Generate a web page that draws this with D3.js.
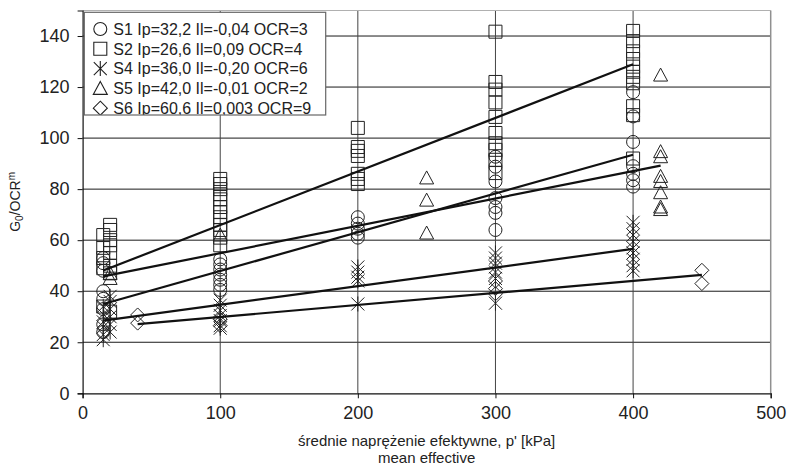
<!DOCTYPE html>
<html><head><meta charset="utf-8">
<script src="https://cdn.jsdelivr.net/npm/d3@7"></script>
<style>
body{margin:0;background:#fff;}
svg{display:block;font-family:"Liberation Sans",Arial,sans-serif;}
</style>
</head><body>
<svg id="chart" width="790" height="475"></svg>
<script>
// axis ticks
const xTicks = [0, 100, 200, 300, 400, 500];
const yTicks = [0, 20, 40, 60, 80, 100, 120, 140];
const xVerticals = [100, 200, 300, 400];

// legend entries
const seriesNames = [
  "S1 Ip=32,2 Il=-0,04 OCR=3",
  "S2 Ip=26,6 Il=0,09 OCR=4",
  "S4 Ip=36,0 Il=-0,20 OCR=6",
  "S5 Ip=42,0 Il=-0,01 OCR=2",
  "S6 Ip=60,6 Il=0,003 OCR=9"
];
const seriesSymbols = ["circle", "square", "star", "triangle", "diamond"];

// measurements: [p' (kPa), G0/OCR^m]
const s1Points = [
  [15,53],[15,51],[15,48],[15,40],[15,37],[15,33],[15,27],[15,24],
  [100,52.5],[100,50.5],[100,48.5],[100,46.5],[100,44.5],[100,42.5],[100,40.5],
  [200,69],[200,66.5],[200,64.5],[200,62.5],[200,61],
  [300,92.7],[300,88.8],[300,83],[300,76.5],[300,73],[300,70.7],[300,64],
  [400,118],[400,108.5],[400,98.5],[400,89],[400,86],[400,83.5],[400,81]
];
const s2Points = [
  [15,62],[15,57],[15,53],[15,49],[15,34],
  [20,66],[20,64],[20,60],[20,58],[20,55],[20,50],[20,47],[20,32],
  [100,84],[100,82],[100,80],[100,78],[100,76],[100,73],[100,71],[100,69],[100,66],[100,64],[100,61],[100,58],
  [200,104],[200,96.5],[200,95],[200,93],[200,86],[200,84],[200,82],
  [300,141.7],[300,122],[300,119],[300,114],[300,108.3],[300,102],[300,98],[300,95.4],[300,91.5],[300,86.3],
  [400,142],[400,138],[400,134],[400,131],[400,128],[400,126],[400,124],[400,121.5],[400,112.5],[400,109],[400,92]
];
const s4Points = [
  [15,21],[15,23],[15,26],[15,28],[15,31],[15,34],
  [20,24],[20,27],[20,30],[20,33],[20,36],[20,38],
  [100,36.5],[100,34.5],[100,32.5],[100,30.5],[100,28.5],[100,26.5],[100,25.5],
  [200,49.5],[200,47.5],[200,45.5],[200,44],[200,35],
  [300,55],[300,53],[300,51],[300,49.5],[300,47.5],[300,45],[300,35.3],
  [400,67],[400,64.5],[400,62],[400,59.5],[400,57],[400,55],[400,52.5],[400,50],[400,48]
];
const s5Points = [
  [20,47],[20,45],
  [100,62],
  [250,84.4],[250,75.7],[250,62.8],
  [420,124.7],[420,94.7],[420,92.7],[420,85],[420,83],[420,78.6],[420,73],[420,72]
];
const s6Points = [
  [40,30.7],[40,27.5],
  [100,29],[100,26.5],
  [300,44],[300,41],[300,39],
  [450,48.2],[450,43]
];

// fitted trend lines: [start, end]
const s1Trend = [[15,35.0],[400,93.5]];
const s2Trend = [[15,48.1],[400,128.9]];
const s4Trend = [[15,28.5],[400,56.6]];
const s5Trend = [[15,45.8],[420,89.2]];
const s6Trend = [[40,27.1],[450,46.4]];

const seriesPoints = [s1Points, s2Points, s4Points, s5Points, s6Points];
const seriesTrends = [s1Trend, s2Trend, s4Trend, s5Trend, s6Trend];

const svg = d3.select("#chart");
const plot = {left: 82.6, right: 770.7, top: 10.5, bottom: 393.3};

const x = d3.scaleLinear().domain([0, 500]).range([plot.left, plot.right]);
const y = d3.scaleLinear().domain([0, 150]).range([plot.bottom, plot.top]);

// marker shapes centred on (0,0)
function symbolPath(kind) {
  const p = d3.path();
  if (kind === "circle") {
    p.moveTo(6.5, 0); p.arc(0, 0, 6.5, 0, 2 * Math.PI);
  } else if (kind === "square") {
    p.rect(-6.5, -6.5, 13, 13);
  } else if (kind === "triangle") {
    p.moveTo(0, -7); p.lineTo(7, 6); p.lineTo(-7, 6); p.closePath();
  } else if (kind === "diamond") {
    p.moveTo(0, -7); p.lineTo(7, 0); p.lineTo(0, 7); p.lineTo(-7, 0); p.closePath();
  } else if (kind === "star") {
    p.moveTo(-6.5, -6.5); p.lineTo(6.5, 6.5);
    p.moveTo(6.5, -6.5); p.lineTo(-6.5, 6.5);
    p.moveTo(0, -7.5); p.lineTo(0, 7.5);
  }
  return p.toString();
}

// grid
svg.append("g").selectAll("line").data(yTicks.filter(d => d > 0)).join("line")
  .attr("x1", plot.left).attr("x2", plot.right)
  .attr("y1", d => y(d)).attr("y2", d => y(d))
  .attr("stroke", "#1a1a1a").attr("stroke-width", 1);
svg.append("g").selectAll("line").data(xVerticals).join("line")
  .attr("x1", d => x(d)).attr("x2", d => x(d))
  .attr("y1", plot.top).attr("y2", plot.bottom)
  .attr("stroke", "#444").attr("stroke-width", 1);
// frame: top and right edges
svg.append("line").attr("x1", plot.left).attr("x2", plot.right)
  .attr("y1", plot.top).attr("y2", plot.top).attr("stroke", "#b0b0b0");
svg.append("line").attr("x1", plot.right).attr("x2", plot.right)
  .attr("y1", plot.top).attr("y2", plot.bottom).attr("stroke", "#909090").attr("stroke-width", 1.5);

// axes
const xAxis = d3.axisBottom(x).tickValues(xTicks).tickSize(5).tickPadding(8).tickFormat(d3.format("d"));
const yAxis = d3.axisLeft(y).tickValues(yTicks).tickSize(5).tickPadding(8).tickFormat(d3.format("d"));
const gx = svg.append("g").attr("transform", `translate(0,${plot.bottom})`).call(xAxis);
const gy = svg.append("g").attr("transform", `translate(${plot.left},0)`).call(yAxis);
[gx, gy].forEach(g => {
  g.select(".domain").attr("stroke", "#111").attr("stroke-width", 1.2);
  g.selectAll(".tick line").attr("stroke", "#111");
  g.selectAll(".tick text").attr("font-size", 18).attr("fill", "#222")
    .attr("font-family", "'Liberation Sans', Arial, sans-serif");
});

// markers
const marks = svg.append("g");
seriesPoints.forEach((pts, i) => {
  marks.append("g").selectAll("path").data(pts).join("path")
    .attr("d", symbolPath(seriesSymbols[i]))
    .attr("transform", d => `translate(${x(d[0])},${y(d[1])})`)
    .attr("fill", "none").attr("stroke", "#222").attr("stroke-width", 1);
});

// trend lines
const line = d3.line().x(d => x(d[0])).y(d => y(d[1]));
svg.append("g").selectAll("path").data(seriesTrends).join("path")
  .attr("d", line).attr("fill", "none").attr("stroke", "#111").attr("stroke-width", 2.2);

// legend
const lg = {x: 84.3, y: 12.3, w: 241.4, h: 102.7};
svg.append("clipPath").attr("id", "legclip").append("rect")
  .attr("x", lg.x).attr("y", lg.y).attr("width", lg.w).attr("height", lg.h);
const legend = svg.append("g");
legend.append("rect").attr("x", lg.x).attr("y", lg.y).attr("width", lg.w).attr("height", lg.h)
  .attr("fill", "#fff");
const rows = legend.append("g").attr("clip-path", "url(#legclip)")
  .selectAll("g").data(seriesNames).join("g")
  .attr("transform", (d, i) => `translate(${lg.x + 16},${29 + i * 19.8})`);
rows.append("path").attr("d", (d, i) => symbolPath(seriesSymbols[i]))
  .attr("fill", "none").attr("stroke", "#222").attr("stroke-width", 1.1);
rows.append("text").attr("x", 13).attr("y", 5.8).attr("font-size", 16).attr("fill", "#222")
  .text(d => d);
legend.append("rect").attr("x", lg.x).attr("y", lg.y).attr("width", lg.w).attr("height", lg.h)
  .attr("fill", "none").attr("stroke", "#666").attr("stroke-width", 1.2);

// axis titles
svg.append("text").attr("x", (plot.left + plot.right) / 2).attr("y", 446)
  .attr("text-anchor", "middle").attr("font-size", 15).attr("fill", "#222")
  .text("średnie naprężenie efektywne, p' [kPa]");
svg.append("text").attr("x", (plot.left + plot.right) / 2).attr("y", 463)
  .attr("text-anchor", "middle").attr("font-size", 15).attr("fill", "#222")
  .text("mean effective");
const yt = svg.append("text").attr("transform", `translate(20,${(plot.top + plot.bottom) / 2}) rotate(-90)`)
  .attr("text-anchor", "middle").attr("font-size", 14).attr("fill", "#222");
yt.append("tspan").text("G");
yt.append("tspan").attr("font-size", 10).attr("dy", 3).text("0");
yt.append("tspan").attr("dy", -3).text("/OCR");
yt.append("tspan").attr("font-size", 10).attr("dy", -5).text("m");
</script>
</body></html>
